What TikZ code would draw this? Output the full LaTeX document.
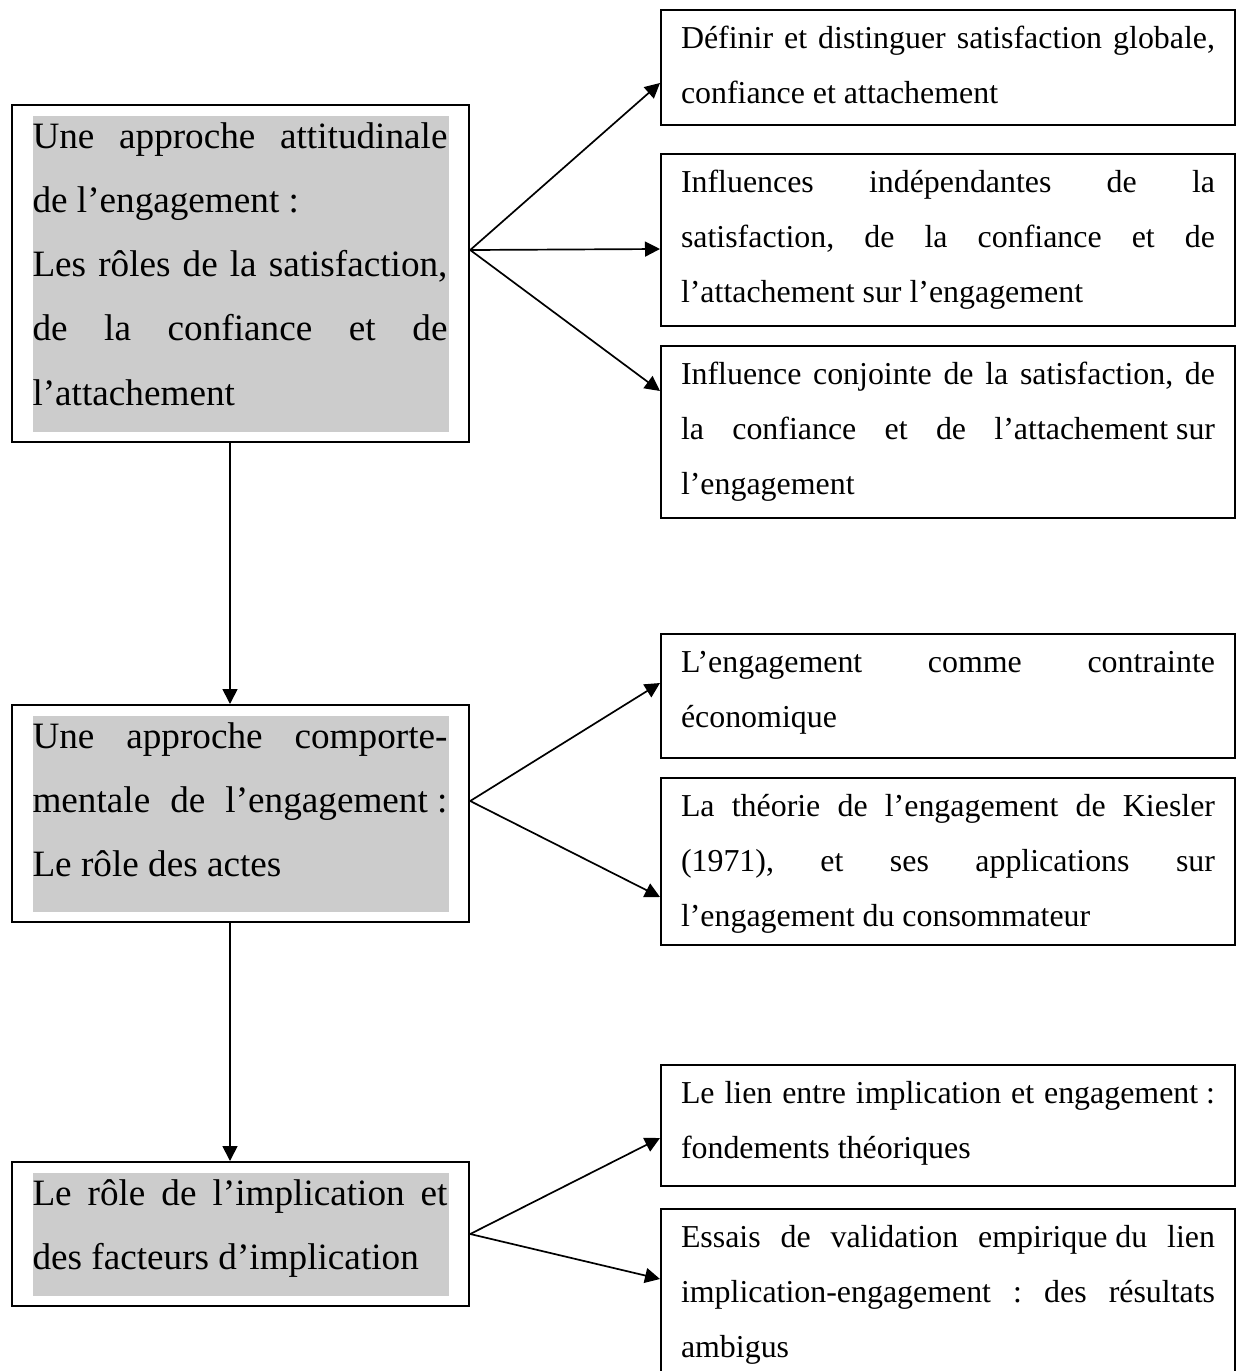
\documentclass[tikz,border=0pt]{standalone}
\usepackage{fontspec}
\setmainfont{Liberation Serif}
\usetikzlibrary{arrows.meta}
\definecolor{hl}{RGB}{204,204,204}
\newlength\lw
\newcommand\jl[1]{\hbox to \lw{#1}}
\newcommand\nl[1]{\hbox{#1}}
\newcommand\rtext[1]{\vtop{\frenchspacing\fontsize{31.9pt}{55pt}\selectfont\lw=534pt #1}}
\newcommand\ltext[1]{\vtop{\frenchspacing\fontsize{37.2pt}{64.25pt}\selectfont\lw=415pt #1}}
\tikzset{
  boxnode/.style={draw, line width=2.2pt, inner sep=0pt, outer sep=1.1pt, anchor=north west},
  lbox/.style={boxnode, minimum width=457pt},
  rbox/.style={boxnode, minimum width=574pt},
  txt/.style={inner sep=0pt, outer sep=0pt, anchor=base west},
  arr/.style={line width=1.7pt, -{Triangle[length=15pt,width=15pt]}},
  shade/.style={fill=hl}
}
\begin{document}
\begin{tikzpicture}[x=1pt,y=-1pt]
\clip (0,0) rectangle (1237,1371);
% left boxes
\node[lbox, minimum height=337pt] (A) at (11,104) {};
\node[lbox, minimum height=217pt] (B) at (11,704) {};
\node[lbox, minimum height=144pt] (C) at (11,1161) {};
% right boxes
\node[rbox, minimum height=115pt] (R1) at (660,9) {};
\node[rbox, minimum height=172pt] (R2) at (660,153) {};
\node[rbox, minimum height=172pt] (R3) at (660,345) {};
\node[rbox, minimum height=124pt] (R4) at (660,633) {};
\node[rbox, minimum height=167pt] (R5) at (660,777) {};
\node[rbox, minimum height=121pt] (R6) at (660,1064) {};
\node[rbox, minimum height=200pt] (R7) at (660,1208) {};
% gray highlights
\foreach \b in {A,B,C}{
  \fill[shade] ([xshift=22.1pt,yshift=-12.1pt]\b.north west) rectangle ([xshift=-21.1pt,yshift=11.1pt]\b.south east);
}
% left texts
\node[txt] (tA) at (32.5,148) {\ltext{%
  \jl{Une approche attitudinale}
  \nl{de l’engagement :}
  \jl{Les rôles de la satisfaction,}
  \jl{de la confiance et de}
  \nl{l’attachement}}};
\node[txt] (tB) at (32.5,748) {\ltext{%
  \jl{Une approche comporte-}
  \jl{mentale de l’engagement\hspace{0.25em}:}
  \nl{Le rôle des actes}}};
\node[txt] (tC) at (32.5,1205) {\ltext{%
  \jl{Le rôle de l’implication et}
  \nl{des facteurs d’implication}}};
% right texts
\node[txt] (t1) at (681,48.5) {\rtext{%
  \jl{Définir et distinguer satisfaction globale,}
  \nl{confiance et attachement}}};
\node[txt] (t2) at (681,192.5) {\rtext{%
  \jl{Influences indépendantes de la}
  \jl{satisfaction, de la confiance et de}
  \nl{l’attachement sur l’engagement}}};
\node[txt] (t3) at (681,384) {\rtext{%
  \jl{Influence conjointe de la satisfaction, de}
  \jl{la confiance et de l’attachement\hspace{0.25em}sur}
  \nl{l’engagement}}};
\node[txt] (t4) at (681,672.5) {\rtext{%
  \jl{L’engagement comme contrainte}
  \nl{économique}}};
\node[txt] (t5) at (681,816.5) {\rtext{%
  \jl{La théorie de l’engagement de Kiesler}
  \jl{(1971), et ses applications sur}
  \nl{l’engagement du consommateur}}};
\node[txt] (t6) at (681,1103) {\rtext{%
  \jl{Le lien entre implication et engagement\hspace{0.25em}:}
  \nl{fondements théoriques}}};
\node[txt] (t7) at (681,1247.5) {\rtext{%
  \jl{Essais de validation empirique\hspace{0.25em}du lien}
  \jl{implication-engagement : des résultats}
  \nl{ambigus}}};
% connectors
\draw[arr] ([yshift=-146pt]A.north east) -- ([yshift=-74pt]R1.north west);
\draw[arr] ([yshift=-146pt]A.north east) -- ([yshift=-96pt]R2.north west);
\draw[arr] ([yshift=-146pt]A.north east) -- ([yshift=-46pt]R3.north west);
\draw[arr] ([yshift=-97pt]B.north east) -- ([yshift=-50pt]R4.north west);
\draw[arr] ([yshift=-97pt]B.north east) -- ([yshift=-120pt]R5.north west);
\draw[arr] ([yshift=-73pt]C.north east) -- ([yshift=-74pt]R6.north west);
\draw[arr] ([yshift=-73pt]C.north east) -- ([yshift=-71pt]R7.north west);
\draw[arr] ([xshift=219pt]A.south west) -- ([xshift=219pt]B.north west);
\draw[arr] ([xshift=219pt]B.south west) -- ([xshift=219pt]C.north west);
\end{tikzpicture}
\end{document}
